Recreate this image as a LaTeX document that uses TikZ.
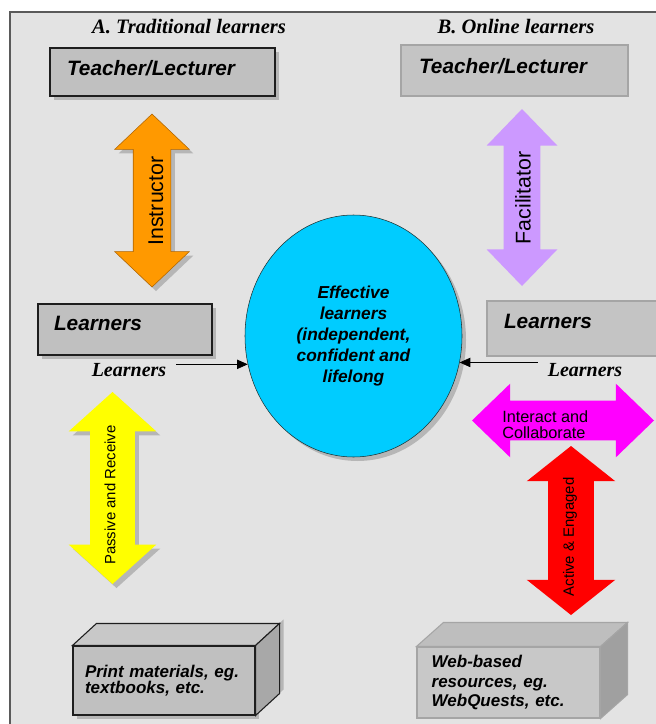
\documentclass[tikz,border=0pt]{standalone}
\usepackage{fontspec}
\setmainfont{Liberation Sans}
\newfontfamily\timesfont{Liberation Serif}
\usepackage{tikz}
\usetikzlibrary{arrows.meta,calc,shapes.arrows,shapes.geometric,shadows}

\begin{document}
\begin{tikzpicture}[x=0.75pt,y=0.75pt,yscale=-1,xscale=1,
  nshade/.style={drop shadow={shadow xshift=3pt,shadow yshift=-3pt,opacity=0.45}},
  pshade/.style={drop shadow={shadow xshift=3pt,shadow yshift=3pt,opacity=0.45}},
  boxA/.style={rectangle, draw={rgb, 255:red, 30; green, 30; blue, 30}, fill={rgb, 255:red, 192; green, 192; blue, 192}, line width=0.8pt, align=left, inner ysep=0pt, text height=11.2pt, font=\bfseries\itshape\fontsize{15.6}{18}\selectfont},
  boxB/.style={boxA, draw={rgb, 255:red, 165; green, 165; blue, 165}, fill={rgb, 255:red, 196; green, 196; blue, 196}},
  bigarr/.style={double arrow, inner xsep=0pt, minimum width=1pt},
  arrtxt/.style={rotate=90, inner sep=0pt, font=\fontsize{16}{19}\selectfont},
  smltxt/.style={rotate=90, inner sep=0pt, font=\fontsize{11.2}{13}\selectfont},
  lrnlbl/.style={inner xsep=7.5pt, font=\timesfont\bfseries\itshape\fontsize{15}{18}\selectfont},
  ttl/.style={inner sep=0pt, font=\timesfont\bfseries\itshape\fontsize{15.4}{18}\selectfont},
  cubtxt/.style={rectangle, align=left, inner ysep=0pt, font=\bfseries\itshape\fontsize{12.75}{12}\selectfont}
]
%uncomment if require: \path (0,724); %set diagram left start at 0, and has height of 724
\path[use as bounding box] (0,0) rectangle (656,724);

%Shape: Rectangle (panel)
\draw [draw={rgb, 255:red, 90; green, 90; blue, 90 }, fill={rgb, 255:red, 227; green, 227; blue, 227 }, line width=0.8pt] (10,12) rectangle (664,732);

% Text Node
\node [ttl] (ttlA) at (189,27) {A. Traditional learners};
% Text Node
\node [ttl] (ttlB) at (516,27) {B. Online learners};

%Shape: Rectangle
\node [boxA, nshade, text width=143.25pt, inner xsep=12.75pt, minimum height=36pt, text depth=6pt] (tchA) at (162.5,72) {Teacher/Lecturer};
%Shape: Rectangle
\node [boxB, text width=143.25pt, inner xsep=13.5pt, minimum height=38.25pt, text depth=6.75pt] (tchB) at (514.5,70.5) {Teacher/Lecturer};
%Shape: Rectangle
\node [boxA, nshade, text width=106.5pt, inner xsep=12pt, minimum height=38.25pt, text depth=9.75pt] (lrnA) at (125,329.5) {Learners};
%Shape: Rectangle
\node [boxB, text width=105.75pt, inner xsep=12.75pt, minimum height=41.25pt, text depth=11.25pt] (lrnB) at (574.5,328.5) {Learners};

%Shape: Double Arrow
\node [bigarr, nshade, rotate=90, fill={rgb, 255:red, 255; green, 153; blue, 0 }, draw={rgb, 255:red, 175; green, 100; blue, 0 }, minimum height=129.75pt, inner ysep=13.875pt, double arrow head extend=13.875pt, double arrow tip angle=93] (instr) at (152,200.5) {};
% Text Node
\node [arrtxt] (instrtxt) at (156,201) {Instructor};

%Shape: Double Arrow
\node [bigarr, rotate=90, fill={rgb, 255:red, 204; green, 153; blue, 255 }, minimum height=132.75pt, inner ysep=13.5pt, double arrow head extend=12.75pt, double arrow tip angle=88] (facil) at (522,197.5) {};
% Text Node
\node [arrtxt] (faciltxt) at (523,198) {Facilitator};

%Shape: Ellipse
\node [ellipse, nshade, draw={rgb, 255:red, 30; green, 50; blue, 50 }, fill={rgb, 255:red, 0; green, 204; blue, 255 }, inner sep=0pt, minimum width=162.75pt, minimum height=181.5pt, align=center, font=\bfseries\itshape\fontsize{13}{15.6}\selectfont] (circ) at (353.5,336) {Effective\\learners\\(independent,\\confident and\\lifelong};

% Text Node
\node [lrnlbl] (lblA) at (129,370) {Learners};
% Text Node
\node [lrnlbl] (lblB) at (585,370) {Learners};
%Straight Lines
\draw [line width=0.6pt, -{Triangle[length=8pt,width=7pt]}] (lblA.east |- circ.195) -- (circ.195);
%Straight Lines
\draw [line width=0.6pt, -{Triangle[length=8pt,width=7pt]}] (lblB.west |- circ.346) -- (circ.346);

%Shape: Double Arrow
\node [bigarr, nshade, rotate=90, fill={rgb, 255:red, 255; green, 255; blue, 0 }, minimum height=144pt, inner ysep=16.5pt, double arrow head extend=16.125pt, double arrow tip angle=96] (passv) at (112.5,488) {};
% Text Node
\node [smltxt] (passvtxt) at (110,495) {Passive and Receive};

%Shape: Double Arrow
\node [bigarr, fill={rgb, 255:red, 255; green, 0; blue, 255 }, minimum height=136.5pt, inner ysep=14.625pt, double arrow head extend=12.75pt, double arrow tip angle=88] (inter) at (563,420.5) {};
% Text Node
\node [anchor=west, align=left, inner sep=0pt, font=\fontsize{12.2}{12}\selectfont] (intertxt) at (502,425) {Interact and\\Collaborate};

%Shape: Double Arrow
\node [bigarr, rotate=90, fill={rgb, 255:red, 255; green, 0; blue, 0 }, minimum height=126.75pt, inner ysep=16.875pt, double arrow head extend=16.125pt, double arrow tip angle=103] (activ) at (571,530.5) {};
% Text Node
\node [smltxt] (activtxt) at (570,537) {Active \& Engaged};

%Shape: Cube (print)
\node [cubtxt, nshade, draw={rgb, 255:red, 30; green, 30; blue, 30 }, fill={rgb, 255:red, 192; green, 192; blue, 192 }, line width=0.8pt, text width=118.5pt, inner xsep=9pt, minimum height=51.75pt] (prnt) at (164,680.5) {Print materials, eg.\\textbooks, etc.};
\draw [draw={rgb, 255:red, 30; green, 30; blue, 30 }, fill={rgb, 255:red, 200; green, 200; blue, 200 }, line width=0.8pt] (prnt.north west) -- ++(24,-22) -- ($(prnt.north east)+(24,-22)$) -- (prnt.north east) -- cycle ;
\draw [pshade, draw={rgb, 255:red, 30; green, 30; blue, 30 }, fill={rgb, 255:red, 168; green, 168; blue, 168 }, line width=0.8pt] (prnt.north east) -- ++(24,-22) -- ($(prnt.south east)+(24,-22)$) -- (prnt.south east) -- cycle ;

%Shape: Cube (web)
\node [cubtxt, draw={rgb, 255:red, 165; green, 165; blue, 165 }, fill={rgb, 255:red, 200; green, 200; blue, 200 }, line width=0.8pt, text width=115.25pt, inner xsep=11pt, minimum height=53.25pt, font=\bfseries\itshape\fontsize{12.75}{14.6}\selectfont] (webr) at (508.5,682.5) {Web-based\\resources, eg.\\WebQuests, etc.};
\draw [draw={rgb, 255:red, 165; green, 165; blue, 165 }, fill={rgb, 255:red, 190; green, 190; blue, 190 }, line width=0.8pt] (webr.north west) -- ++(27,-24) -- ($(webr.north east)+(27,-24)$) -- (webr.north east) -- cycle ;
\draw [draw={rgb, 255:red, 165; green, 165; blue, 165 }, fill={rgb, 255:red, 160; green, 160; blue, 160 }, line width=0.8pt] (webr.north east) -- ++(27,-24) -- ($(webr.south east)+(27,-24)$) -- (webr.south east) -- cycle ;

\end{tikzpicture}
\end{document}
